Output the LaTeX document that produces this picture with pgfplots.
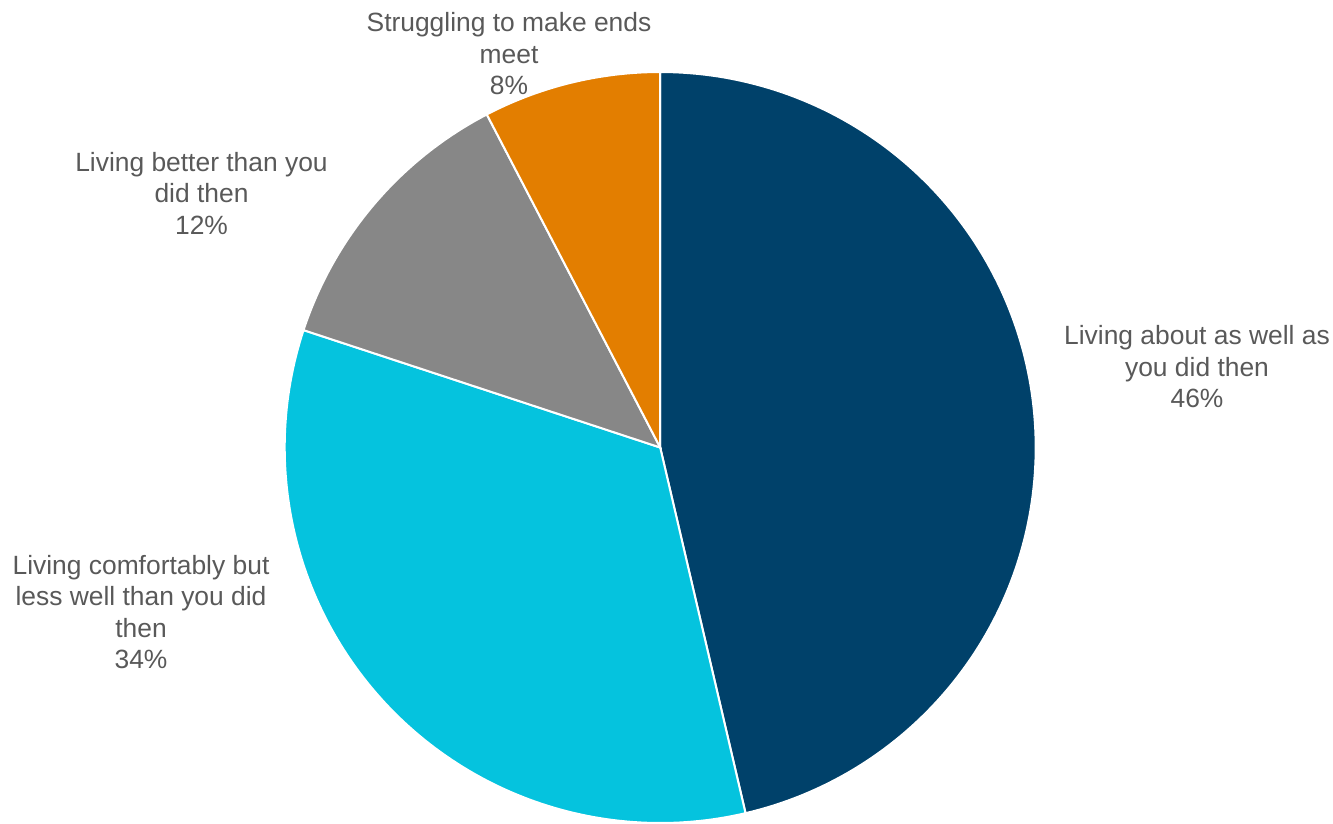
\documentclass[border=0pt]{standalone}
\usepackage{pgfplots}
\pgfplotsset{compat=1.18}
\usepackage{fontspec}
\setmainfont{Liberation Sans}
\definecolor{cNavy}{HTML}{00416A}
\definecolor{cCyan}{HTML}{05C3DE}
\definecolor{cGray}{HTML}{878787}
\definecolor{cOrange}{HTML}{E37E00}
\definecolor{cText}{HTML}{595959}
% slice values (percent), clockwise from 12 o'clock
\def\pA{46.35}
\def\pB{33.71}
\def\pC{12.30}
\def\pD{7.64}
\begin{document}
\begin{tikzpicture}
\pgfmathsetmacro{\aA}{90}
\pgfmathsetmacro{\aB}{90-3.6*\pA}
\pgfmathsetmacro{\aC}{90-3.6*(\pA+\pB)}
\pgfmathsetmacro{\aD}{90-3.6*(\pA+\pB+\pC)}
\pgfmathsetmacro{\aE}{90-3.6*(\pA+\pB+\pC+\pD)}
\begin{axis}[
  width=666.5pt, height=411pt, scale only axis,
  xmin=0, xmax=1333, ymin=0, ymax=822,
  hide axis, clip=false,
]
\path (axis cs:0,0) rectangle (axis cs:1333,822);
\addplot[draw=white, line width=1pt, fill=cNavy, domain=\aB:\aA, samples=150]
  ({660.2+375.5*cos(x)},{374.5+375.5*sin(x)}) -- (axis cs:660.2,374.5) -- cycle;
\addplot[draw=white, line width=1pt, fill=cCyan, domain=\aC:\aB, samples=120]
  ({660.2+375.5*cos(x)},{374.5+375.5*sin(x)}) -- (axis cs:660.2,374.5) -- cycle;
\addplot[draw=white, line width=1pt, fill=cGray, domain=\aD:\aC, samples=60]
  ({660.2+375.5*cos(x)},{374.5+375.5*sin(x)}) -- (axis cs:660.2,374.5) -- cycle;
\addplot[draw=white, line width=1pt, fill=cOrange, domain=\aE:\aD, samples=40]
  ({660.2+375.5*cos(x)},{374.5+375.5*sin(x)}) -- (axis cs:660.2,374.5) -- cycle;
\tikzset{lbl/.style={align=center, text=cText, inner sep=0pt, font=\fontsize{13.2}{15.75}\selectfont}}
\node[lbl] at (axis cs:1197,455) {Living about as well as\\you did then\\46\%};
\node[lbl] at (axis cs:141,210) {Living comfortably but\\less well than you did\\then\\34\%};
\node[lbl] at (axis cs:201.5,628.5) {Living better than you\\did then\\12\%};
\node[lbl] at (axis cs:509,768) {Struggling to make ends\\meet\\8\%};
\end{axis}
\end{tikzpicture}
\end{document}
